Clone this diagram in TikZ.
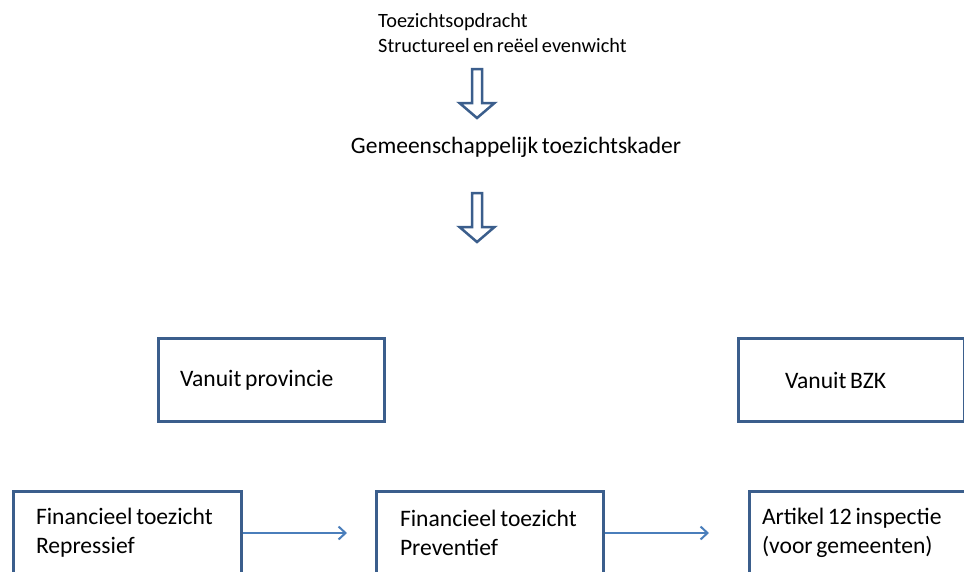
\documentclass[tikz,border=0pt]{standalone}
\usepackage{fontspec}
\setmainfont{Carlito}[WordSpace=0.7]
\usetikzlibrary{positioning,arrows.meta}
\definecolor{boxblue}{HTML}{3B5E8C}
\definecolor{lineblue}{HTML}{4A7EBB}
\newcommand{\hollowdown}[1]{%
  \draw[hollow] (#1) ++(-5,0) -- ++(0,34) -- ++(-12.5,0) -- ++(17.5,15) -- ++(17.5,-15) -- ++(-12.5,0) -- ++(0,-34) -- cycle;}

\begin{document}
\begin{tikzpicture}[x=1pt, y=-1pt,
    box/.style={draw=boxblue, line width=3pt, minimum height=83pt, align=flush left, font=\fontsize{23.6}{29}\selectfont},
    plain/.style={inner sep=0pt, align=left},
    hollow/.style={draw=boxblue, line width=2.5pt, line join=miter, fill=white},
    flow/.style={draw=lineblue, line width=2pt, -{Straight Barb[length=7pt, width=13pt, line width=2pt]}}]
  \useasboundingbox (0,0) rectangle (964,571);
  \clip (0,0) rectangle (964,571);
  % opdracht en kader
  \node[plain, anchor=west, font=\fontsize{20.3}{25}\selectfont] (opdracht) at (378,33)
    {Toezichtsopdracht\\Structureel en re\"eel evenwicht};
  \node[plain, font=\fontsize{23.5}{25}\selectfont] (kader) at (516,147) {Gemeenschappelijk toezichtskader};
  \coordinate (pijl1) at (477,69);
  \coordinate (pijl2) at (477,193);
  \hollowdown{pijl1}
  \hollowdown{pijl2}
  % vanuit wie
  \node[box, text width=183pt, inner xsep=21.5pt] (prov) at (271.5,380) {Vanuit provincie};
  \node[box, text width=133pt, inner xsep=46.5pt] (bzk) at (851.5,380) {Vanuit BZK};
  % soorten toezicht
  \node[box, text width=183pt, inner xsep=22.5pt] (rep) at (127.5,533) {Financieel toezicht\\Repressief};
  \node[box, text width=180pt, inner xsep=23.5pt, right=132pt of rep] (prev) {Financieel toezicht\\Preventief};
  \node[box, text width=202pt, inner xsep=12.5pt, right=143pt of prev] (art) {Artikel 12 inspectie\\(voor gemeenten)};
  \coordinate[right=104pt of rep.east] (naarprev);
  \coordinate[right=104pt of prev.east] (naarart);
  \draw[flow] (rep.east) -- (naarprev);
  \draw[flow] (prev.east) -- (naarart);
\end{tikzpicture}
\end{document}
